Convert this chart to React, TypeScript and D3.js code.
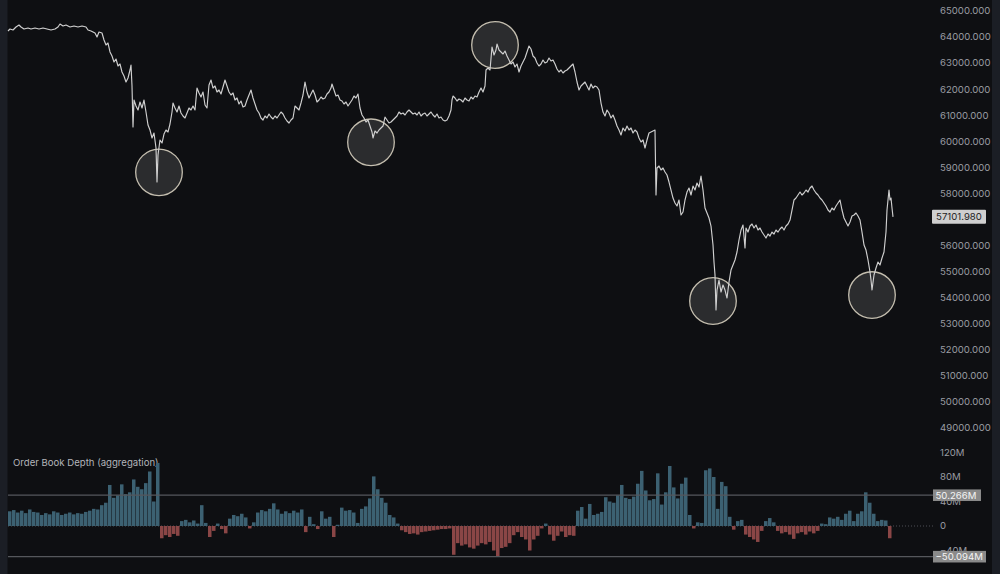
import React from "react";
import * as d3 from "d3";

// ---- DATA ----
// price series: [time index, price]
const priceSeries: [number, number][] = [
[0,64233],[2,64309],[5,64271],[8,64386],[11,64463],[13,64386],[16,64309],[20,64348],[23,64309],[27,64348],[31,64309],[35,64348],[39,64309],[43,64271],[47,64309],[50,64386],[52,64501],[55,64424],[58,64463],[62,64386],[66,64424],[70,64386],[74,64424],[78,64386],[80,64271],[83,64233],[87,64156],[89,64002],[91,64194],[94,64156],[96,63887],[98,63695],[100,63772],[102,63427],[104,63273],[106,63043],[108,63158],[110,62890],[112,62966],[114,62659],[116,62506],[118,62276],[120,62429],[122,62736],[123,62928],[124,62122],[125,60549],[126,61585],[128,61355],[130,61201],[132,61508],[134,61278],[136,61585],[138,61124],[140,60626],[142,60434],[144,60127],[146,60318],[148,59743],[149,58438],[150,59475],[152,60050],[154,59935],[156,60280],[158,60434],[160,60357],[162,60664],[164,61124],[165,61470],[167,61278],[169,61124],[171,61355],[173,61086],[175,60971],[177,60894],[179,61086],[181,61278],[183,61201],[185,61355],[187,61201],[189,62045],[191,61853],[193,61700],[195,61892],[197,61393],[199,61278],[201,62160],[203,62352],[205,62045],[207,62122],[209,61892],[211,61969],[213,61815],[215,62084],[217,62352],[219,62122],[221,61892],[223,61777],[225,61853],[227,61585],[229,61662],[231,61431],[233,61546],[235,61316],[237,61355],[239,61585],[241,61777],[243,61969],[245,61662],[247,61431],[249,61201],[251,61086],[253,60894],[255,60817],[257,60971],[259,60894],[261,61047],[263,60932],[265,60856],[267,60971],[269,60894],[271,61009],[273,61124],[275,61047],[277,60894],[279,60779],[281,60702],[283,60817],[285,60894],[287,61355],[289,61278],[291,61201],[293,61470],[295,61777],[297,62276],[299,61892],[301,61662],[303,61815],[305,61969],[307,61777],[309,61508],[311,61585],[313,61700],[315,61623],[317,61662],[319,61815],[321,61892],[323,62045],[324,62199],[326,61969],[328,61738],[330,61777],[332,61585],[334,61546],[336,61431],[338,61508],[340,61355],[342,61470],[344,61585],[346,61738],[348,61662],[350,61815],[352,61278],[354,61009],[356,60894],[358,60741],[360,60817],[362,60587],[364,60357],[365,60127],[367,60395],[369,60318],[371,60434],[373,60510],[375,60587],[377,60932],[379,60817],[381,60702],[383,60741],[385,60817],[387,60894],[389,60971],[391,61124],[393,61047],[395,61086],[397,61009],[399,61124],[401,61201],[403,61124],[405,61047],[407,61086],[409,61009],[411,61124],[413,60971],[415,61047],[417,61086],[419,60971],[421,61047],[423,61124],[425,61009],[427,60932],[429,61047],[431,60894],[433,60932],[435,60817],[437,60779],[439,60817],[441,60971],[443,61201],[444,61585],[445,61738],[447,61662],[449,61546],[451,61623],[453,61585],[455,61508],[457,61662],[459,61585],[461,61546],[463,61700],[465,61623],[467,61738],[469,61700],[471,61892],[473,62045],[475,61892],[477,62122],[478,62736],[480,62813],[482,62736],[484,63619],[486,63312],[488,63503],[489,63734],[491,63503],[493,63427],[495,63350],[497,63465],[499,63273],[501,63120],[503,62966],[505,63043],[507,62851],[509,62966],[511,62659],[513,62890],[515,63043],[517,63197],[519,63427],[521,63657],[523,63542],[525,63273],[527,63197],[529,63005],[531,62890],[533,62966],[535,63120],[537,63005],[539,63043],[541,63197],[543,63081],[545,63120],[547,62966],[549,62774],[551,62659],[553,62736],[555,62621],[557,62698],[559,62736],[561,62813],[563,62890],[565,62966],[567,62659],[569,62276],[571,61969],[573,62122],[575,62199],[577,62276],[579,62122],[581,61969],[583,62199],[585,62045],[587,62122],[589,62084],[591,61969],[593,61470],[595,61124],[597,60971],[599,61201],[601,61086],[603,60894],[605,61009],[607,60817],[609,60587],[611,60434],[613,60242],[615,60510],[617,60395],[619,60587],[621,60434],[623,60510],[625,60318],[627,60434],[629,60357],[631,60127],[633,59973],[635,60050],[637,59743],[639,60050],[641,60318],[643,60357],[645,60395],[647,60434],[648,57939],[649,58976],[651,59053],[653,58899],[655,58976],[657,58822],[659,58707],[661,58438],[663,58131],[665,57824],[667,57633],[669,57518],[671,57748],[673,57172],[675,57287],[677,57748],[679,58054],[681,58208],[683,57939],[685,58285],[687,58131],[689,58400],[691,58246],[693,58669],[695,58131],[697,57441],[699,57249],[701,57057],[703,56750],[705,56021],[706,55369],[707,54870],[708,53527],[709,54294],[711,54678],[713,54217],[715,54486],[717,54294],[719,53987],[721,54601],[723,55061],[725,55253],[727,55446],[729,55753],[731,56213],[733,56596],[735,56788],[737,55906],[738,56673],[740,56519],[742,56750],[744,56827],[746,56673],[748,56788],[750,56596],[752,56673],[754,56519],[756,56404],[758,56289],[760,56443],[762,56366],[764,56519],[766,56443],[768,56596],[770,56519],[772,56635],[774,56712],[776,56596],[778,56750],[780,56827],[782,56980],[784,57364],[786,57748],[788,57824],[790,57939],[792,58054],[794,57939],[796,58016],[798,58131],[800,58054],[802,58208],[804,58285],[806,58131],[808,58016],[810,57939],[812,57824],[814,57748],[816,57633],[818,57518],[820,57364],[822,57287],[824,57441],[826,57364],[828,57518],[830,57633],[832,57748],[834,57364],[836,57057],[838,56904],[840,56750],[842,56904],[844,57134],[846,57172],[848,57249],[850,57134],[852,56980],[854,56519],[856,56021],[858,55829],[860,55446],[862,54985],[863,54678],[864,54294],[866,54870],[868,55138],[870,55369],[872,55253],[874,55522],[876,55753],[878,56519],[879,57364],[881,58131],[882,57748],[883,57824],[884,57441],[885,57101.98]
];
const lastPrice = 57101.98;

// highlighted swing points: [time index, price]
const circleMarks: [number, number][] = [
  [151, 58810], [363, 59962], [487, 63695], [705, 53872], [864, 54102],
];

const priceTicks = [49000, 50000, 51000, 52000, 53000, 54000, 55000, 56000, 57000, 58000, 59000, 60000, 61000, 62000, 63000, 64000, 65000];

// order book depth (millions), one value per 4-tick bucket
const depthStep = 4;
const depthValues: number[] = [
24,26,22,25,21,27,23,22,18,21,19,24,22,18,20,22,19,21,20,23,
25,28,27,34,38,67,46,50,68,52,55,76,64,60,70,89,40,103,-20,-15,
-18,-13,-16,8,10,6,9,4,34,5,-18,-8,4,-5,-12,12,18,16,20,14,
-4,6,22,26,24,28,37,27,20,24,21,25,22,27,-10,15,3,-5,24,12,
15,-18,2,30,25,26,22,5,28,32,45,81,60,46,38,18,14,4,-7,-10,
-13,-12,-14,-10,-9,-8,-7,-6,-5,-5,-4,-47,-28,-32,-30,-35,-37,-32,-28,-30,
-26,-40,-50,-36,-34,-28,-15,-10,-18,-22,-40,-22,-16,-4,4,-14,-24,-16,-9,-18,
-15,-16,25,31,12,36,18,20,23,47,40,38,50,67,46,44,48,69,90,58,
42,44,86,35,55,98,63,45,69,79,18,-4,6,5,91,94,80,28,72,65,
15,-6,8,10,-14,-18,-22,-26,-8,8,13,6,-8,-12,-10,-14,-21,-12,-10,-14,
-9,-12,-8,4,3,14,12,15,10,20,25,8,20,24,55,38,20,8,10,9,
-20
];
const depthTicks = [-40, 0, 40, 80, 120];
const depthBands = [50.266, -50.094];
const depthTitle = "Order Book Depth (aggregation)";

// ---- STYLE ----
const W = 1000, H = 574;
const BG = "#0e0f12";
const EDGE = "#1b1e25";
const AXIS_TXT = "#9a9ca2";
const FONT = "Inter, Roboto, 'Noto Sans', sans-serif";

export default function App() {
  const tMax = priceSeries[priceSeries.length - 1][0];
  const x = d3.scaleLinear().domain([0, tMax]).range([8, 893]);
  const y = d3.scaleLinear().domain([49000, 65000]).range([428, 11]);
  const yd = d3.scaleLinear().domain([-40, 120]).range([550.5, 452.5]);

  const line = d3.line<[number, number]>()
    .x((d) => x(d[0]))
    .y((d) => y(d[1]));

  const barW = x(depthStep) - x(0);

  const fmtPrice = d3.format(".3f");
  const fmtDepth = (v: number) => (v === 0 ? "0" : `${v < 0 ? "\u2212" : ""}${Math.abs(v)}M`);

  const lastY = y(lastPrice);
  // tick labels hidden behind the last-price tag are not drawn
  const visiblePriceTicks = priceTicks.filter((t) => Math.abs(y(t) - lastY) > 12);

  return (
    <svg width={W} height={H} style={{ position: "fixed", left: 0, top: 0, display: "block" }} fontFamily={FONT}>
      <rect x={0} y={0} width={W} height={H} fill={BG} />
      <rect x={0} y={0} width={7.5} height={H} fill={EDGE} />
      <rect x={992} y={0} width={8} height={H} fill={EDGE} />

      {/* price axis labels */}
      {visiblePriceTicks.map((t) => (
        <text key={t} x={940} y={y(t)} dy="0.35em" fontSize={9.6} fill={AXIS_TXT}>
          {fmtPrice(t)}
        </text>
      ))}

      {/* circles */}
      {circleMarks.map((c, i) => (
        <circle key={i} cx={x(c[0])} cy={y(c[1])} r={23.3}
          fill="rgba(255,255,255,0.12)" stroke="#c4beaf" strokeWidth={1.3} />
      ))}

      {/* price line */}
      <path d={line(priceSeries) || ""} fill="none" stroke="#d0d0d0" strokeWidth={1.15} strokeLinejoin="round" />

      {/* last price label */}
      <rect x={932} y={lastY - 7} width={54} height={14} fill="#cfcfcf" rx={1} />
      <text x={959} y={lastY} dy="0.35em" textAnchor="middle" fontSize={9.6} fill="#1e1e1e">
        {fmtPrice(lastPrice)}
      </text>

      {/* depth panel */}
      <text x={13} y={466} fontSize={9.6} fill="#b3b5ba">{depthTitle}</text>

      <line x1={8} x2={933} y1={yd(0)} y2={yd(0)} stroke="#4d4f55" strokeDasharray="1,2" />

      {depthValues.map((v, i) => {
        const x0 = x(i * depthStep);
        const y0 = yd(Math.max(0, v));
        const h = Math.abs(yd(v) - yd(0));
        return (
          <rect key={i} x={x0} y={y0} width={Math.max(0.5, barW - 0.5)} height={h}
            fill={v >= 0 ? "#3c6172" : "#8a4646"} />
        );
      })}

      {depthTicks.map((t) => (
        <text key={t} x={940} y={yd(t)} dy="0.35em" fontSize={9.6} fill={AXIS_TXT}>
          {fmtDepth(t)}
        </text>
      ))}

      {depthBands.map((b, i) => (
        <g key={i}>
          <line x1={8} x2={933} y1={yd(b)} y2={yd(b)} stroke="#55575c" strokeWidth={1.2} />
          <rect x={933} y={yd(b) - 5.8} width={b < 0 ? 53 : 48} height={11.6} fill="#8a8a8a" />
          <text x={935.5} y={yd(b)} dy="0.36em" fontSize={9.6} fill="#f4f4f4">
            {(b < 0 ? "\u2212" : "") + Math.abs(b).toFixed(3) + "M"}
          </text>
        </g>
      ))}
    </svg>
  );
}
